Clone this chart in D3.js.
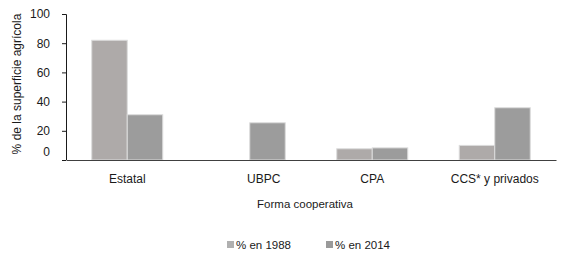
<!DOCTYPE html>
<html>
<head>
<meta charset="utf-8">
<script src="https://cdn.jsdelivr.net/npm/d3@7"></script>
<style>
  body { margin: 0; background: #fff; }
  text { font-family: "Liberation Sans", Arial, sans-serif; fill: #1a1a1a; }
</style>
</head>
<body>
<svg id="chart" width="563" height="259"></svg>
<script>
// data
var categories = ["Estatal", "UBPC", "CPA", "CCS* y privados"];
var series = ["% en 1988", "% en 2014"];
var values1988 = [82, 0, 7.7, 10];
var values2014 = [31, 25.5, 8.3, 35.8];
var yTicks = [0, 20, 40, 60, 80, 100];
var colors = ["#aeaaa9", "#9c9c9c"];

var svg = d3.select("#chart"),
    margin = {left: 66, right: 7, top: 14, bottom: 99},
    width = +svg.attr("width") - margin.left - margin.right,
    height = +svg.attr("height") - margin.top - margin.bottom;

var g = svg.append("g")
    .attr("transform", "translate(" + margin.left + "," + margin.top + ")");

var x = d3.scaleBand().domain(categories).range([0, width]);
var y = d3.scaleLinear().domain([0, 100]).range([height, 0]);

// two bars per category, sitting either side of the band centre
var xs = d3.scaleBand().domain(series).range([-35.5, 35.5]);

var bars = [];
categories.forEach(function (c, i) {
    bars.push({cat: c, s: series[0], v: values1988[i], k: 0});
    bars.push({cat: c, s: series[1], v: values2014[i], k: 1});
});

g.append("g").attr("class", "bars")
    .selectAll("rect")
    .data(bars.filter(function (d) { return d.v > 0; }))
    .enter().append("rect")
    .attr("x", function (d) { return x(d.cat) + x.bandwidth() / 2 + xs(d.s); })
    .attr("width", xs.bandwidth())
    .attr("y", function (d) { return y(d.v); })
    .attr("height", function (d) { return height - y(d.v); })
    .attr("fill", function (d) { return colors[d.k]; })
    .attr("stroke", "#dcdcdc")
    .attr("stroke-width", 1);

// y axis
var yAxis = g.append("g")
    .call(d3.axisLeft(y).tickValues(yTicks).tickSize(4).tickPadding(12));
yAxis.select(".domain").attr("stroke", "#1a1a1a").attr("d", "M-4,0.5H0.5V" + height);
yAxis.selectAll(".tick line").attr("stroke", "#1a1a1a");
yAxis.selectAll(".tick text")
    .style("font-size", "12px")
    .attr("dy", function (d) { return d === 0 ? "-0.4em" : "0.32em"; });

// x axis
var xAxis = g.append("g")
    .attr("transform", "translate(0," + height + ")")
    .call(d3.axisBottom(x).tickSize(0).tickPadding(14));
xAxis.select(".domain").attr("stroke", "#404040").attr("stroke-width", 1.2);
xAxis.selectAll(".tick text")
    .style("font-size", "12px")
    .attr("dx", function (d) { return d === "UBPC" ? 14 : 0; });

// axis titles
svg.append("text")
    .attr("transform", "translate(21," + (margin.top + height / 2 - 3) + ") rotate(-90)")
    .attr("text-anchor", "middle")
    .style("font-size", "12px")
    .text("% de la superficie agrícola");

svg.append("text")
    .attr("x", 305)
    .attr("y", 208)
    .attr("text-anchor", "middle")
    .style("font-size", "11.5px")
    .text("Forma cooperativa");

// legend
var legend = svg.append("g").attr("transform", "translate(227,245)");
var items = legend.selectAll(".item")
    .data(series)
    .enter().append("g")
    .attr("class", "item")
    .attr("transform", function (d, i) { return "translate(" + (i * 99) + ",0)"; });
items.append("rect")
    .attr("x", 0).attr("y", -4)
    .attr("width", 7).attr("height", 7)
    .attr("fill", function (d, i) { return i === 0 ? "#b0b0b0" : "#9a9a9a"; });
items.append("text")
    .attr("x", 9).attr("y", 4)
    .style("font-size", "11.5px")
    .text(function (d) { return d; });
</script>
</body>
</html>
